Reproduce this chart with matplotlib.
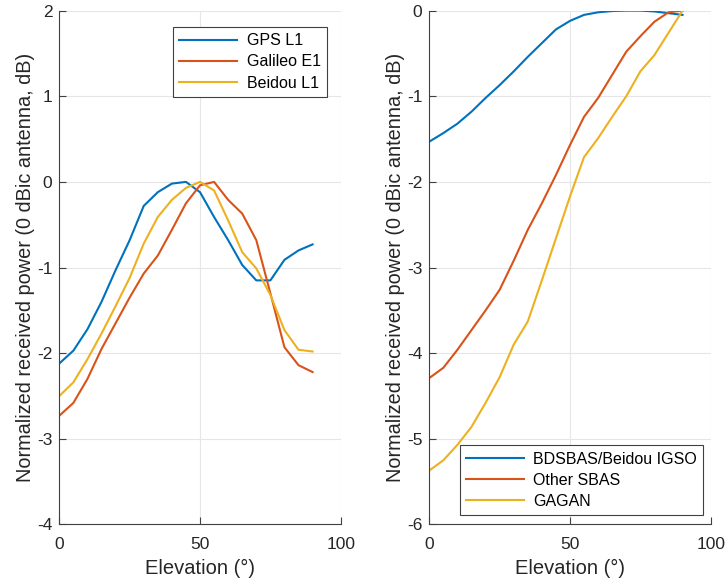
import matplotlib
matplotlib.use("Agg")
import matplotlib.pyplot as plt

plt.rcParams["font.family"] = ["Liberation Sans", "DejaVu Sans"]
plt.rcParams["axes.unicode_minus"] = False

elev = [0, 5, 10, 15, 20, 25, 30, 35, 40, 45, 50, 55, 60, 65, 70, 75, 80, 85, 90]

gps_l1 = [-2.12, -1.97, -1.72, -1.40, -1.03, -0.68, -0.28, -0.12, -0.02, 0.0,
          -0.12, -0.41, -0.68, -0.97, -1.15, -1.15, -0.91, -0.80, -0.73]
galileo_e1 = [-2.73, -2.58, -2.30, -1.95, -1.65, -1.35, -1.07, -0.86, -0.56, -0.25,
              -0.04, 0.0, -0.21, -0.37, -0.68, -1.30, -1.93, -2.14, -2.22]
beidou_l1 = [-2.50, -2.34, -2.07, -1.77, -1.45, -1.12, -0.72, -0.41, -0.21, -0.07,
             0.0, -0.10, -0.45, -0.82, -1.01, -1.32, -1.73, -1.96, -1.98]

bdsbas = [-1.53, -1.43, -1.32, -1.18, -1.02, -0.87, -0.71, -0.54, -0.38, -0.22,
          -0.12, -0.05, -0.02, -0.005, 0.0, 0.0, -0.01, -0.03, -0.05]
other_sbas = [-4.29, -4.17, -3.96, -3.73, -3.50, -3.26, -2.92, -2.56, -2.25, -1.92,
              -1.57, -1.24, -1.02, -0.75, -0.48, -0.30, -0.13, -0.02, 0.0]
gagan = [-5.37, -5.25, -5.07, -4.86, -4.58, -4.28, -3.90, -3.63, -3.15, -2.66,
         -2.17, -1.71, -1.49, -1.24, -1.00, -0.71, -0.52, -0.26, 0.0]

colors = ["#0072BD", "#D95319", "#EDB120"]
ylabel = "Normalized received power (0 dBic antenna, dB)"

fig = plt.figure(figsize=(7.26, 5.82), dpi=100)
ax1 = fig.add_axes([0.0817, 0.0988, 0.3876, 0.883])
ax2 = fig.add_axes([0.5913, 0.0988, 0.3876, 0.883])


def style(ax, ylim, yticks):
    ax.set_xlim(0, 100)
    ax.set_ylim(*ylim)
    ax.set_xticks([0, 50, 100])
    ax.set_yticks(yticks)
    ax.grid(True, color="#e6e6e6", linewidth=0.8)
    ax.set_axisbelow(True)
    for s in ["top", "right"]:
        ax.spines[s].set_visible(False)
    for s in ["left", "bottom"]:
        ax.spines[s].set_color("#404040")
        ax.spines[s].set_linewidth(0.8)
    ax.tick_params(direction="in", length=5, labelsize=12.5, colors="#404040",
                   labelcolor="#262626")
    ax.tick_params(axis="x", pad=9)
    ax.tick_params(axis="y", pad=5)
    ax.set_xlabel("Elevation (°)", fontsize=14.5, color="#262626", labelpad=5)
    ax.set_ylabel(ylabel, fontsize=14.3, color="#262626", labelpad=1)


def legend(ax, loc, anchor):
    leg = ax.legend(loc=loc, bbox_to_anchor=anchor, borderaxespad=0,
                    fontsize=11.5, handlelength=3.6, fancybox=False,
                    framealpha=1, edgecolor="#404040", borderpad=0.4,
                    labelspacing=0.38, handletextpad=0.6)
    leg.get_frame().set_linewidth(0.8)


for ys, lab, c in zip([gps_l1, galileo_e1, beidou_l1],
                      ["GPS L1", "Galileo E1", "Beidou L1"], colors):
    ax1.plot(elev, ys, color=c, linewidth=1.5, label=lab)
style(ax1, (-4, 2), [-4, -3, -2, -1, 0, 1, 2])
legend(ax1, "upper right", (0.951, 0.968))

for ys, lab, c in zip([bdsbas, other_sbas, gagan],
                      ["BDSBAS/Beidou IGSO", "Other SBAS", "GAGAN"], colors):
    ax2.plot(elev, ys, color=c, linewidth=1.5, label=lab)
style(ax2, (-6, 0), [-6, -5, -4, -3, -2, -1, 0])
legend(ax2, "lower right", (0.974, 0.018))

fig.savefig("out.png", dpi=100)
